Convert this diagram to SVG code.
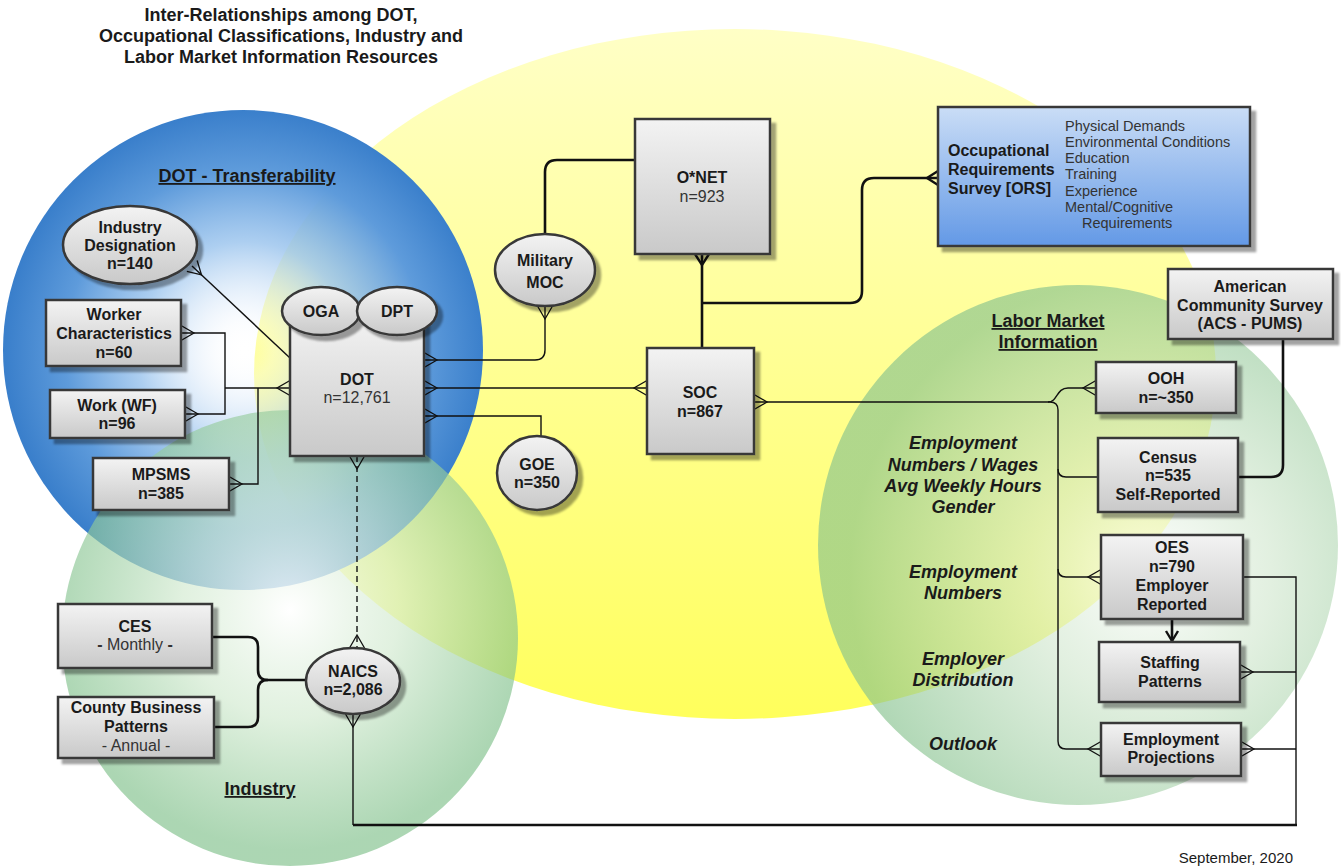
<svg xmlns="http://www.w3.org/2000/svg" width="1341" height="867" viewBox="0 0 1341 867">
<defs>
<linearGradient id="gY" x1="0" y1="0" x2="0" y2="1">
<stop offset="0" stop-color="#FFFFC6"/><stop offset="0.5" stop-color="#FFFF92"/><stop offset="1" stop-color="#FFFF5C"/>
</linearGradient>
<radialGradient id="gB" gradientUnits="userSpaceOnUse" cx="245" cy="350" r="240">
<stop offset="0" stop-color="#FFFFFF" stop-opacity="0"/>
<stop offset="0.12" stop-color="#F2F7FD" stop-opacity="0.35"/>
<stop offset="0.45" stop-color="#9EC6EE" stop-opacity="0.85"/>
<stop offset="0.75" stop-color="#5E9BDB"/>
<stop offset="1" stop-color="#3A7FCB"/>
</radialGradient>
<radialGradient id="gG1" gradientUnits="userSpaceOnUse" cx="290" cy="610" r="240">
<stop offset="0" stop-color="#FFFFFF" stop-opacity="0.85"/>
<stop offset="0.45" stop-color="#D4EBD2" stop-opacity="0.7"/>
<stop offset="1" stop-color="#7FC08A" stop-opacity="0.65"/>
</radialGradient>
<radialGradient id="gG2" gradientUnits="userSpaceOnUse" cx="1150" cy="575" r="300">
<stop offset="0" stop-color="#FFFFFF" stop-opacity="0.75"/>
<stop offset="0.4" stop-color="#CFE6CC" stop-opacity="0.6"/>
<stop offset="1" stop-color="#86C28E" stop-opacity="0.65"/>
</radialGradient>
<linearGradient id="gN" x1="0" y1="0" x2="0" y2="1">
<stop offset="0" stop-color="#F3F3F3"/><stop offset="1" stop-color="#C9C9C9"/>
</linearGradient>
<linearGradient id="gORS" x1="0" y1="0" x2="0" y2="1">
<stop offset="0" stop-color="#CADDF6"/><stop offset="1" stop-color="#6399E6"/>
</linearGradient>
<filter id="sh" x="-20%" y="-20%" width="150%" height="150%">
<feDropShadow dx="5" dy="5" stdDeviation="1.2" flood-color="#000" flood-opacity="0.36"/>
</filter>
<marker id="cf" markerUnits="userSpaceOnUse" viewBox="-16 -16 32 32" markerWidth="32" markerHeight="32" refX="0" refY="0" orient="auto-start-reverse">
<path d="M0,-7.5 L-13,0 L0,7.5" fill="none" stroke="#111" stroke-width="1.3"/>
</marker>
<marker id="cfT" markerUnits="userSpaceOnUse" viewBox="-16 -16 32 32" markerWidth="32" markerHeight="32" refX="0" refY="0" orient="auto-start-reverse">
<path d="M0,-7 L-11,0 L0,7" fill="none" stroke="#111" stroke-width="2.4"/>
</marker>
<marker id="arr" markerUnits="userSpaceOnUse" viewBox="-16 -16 32 32" markerWidth="32" markerHeight="32" refX="0" refY="0" orient="auto">
<path d="M-10,-6 L0,0 L-10,6" fill="none" stroke="#111" stroke-width="2.4"/>
</marker>
</defs>
<style>
.box{fill:url(#gN);stroke:#383838;stroke-width:2.5;filter:url(#sh)}
.ors{fill:url(#gORS);stroke:#383838;stroke-width:2.5;filter:url(#sh)}
text{font-family:"Liberation Sans",Arial,sans-serif;fill:#1a1a1a}
.b{font-weight:bold;font-size:16px;text-anchor:middle}
.n{font-size:16px;text-anchor:middle;fill:#333}
.lst{font-size:14.5px;fill:#333}
.ttl{font-weight:bold;font-size:18px;text-anchor:middle}
.hd{font-weight:bold;font-size:18px;text-anchor:middle;text-decoration:underline}
.it{font-weight:bold;font-style:italic;font-size:18px;text-anchor:middle}
.thin{fill:none;stroke:#111;stroke-width:1.4}
.thick{fill:none;stroke:#111;stroke-width:2.6}
</style>
<rect width="1341" height="867" fill="#FFFFFF"/>
<g id="regions">
<ellipse cx="735" cy="374" rx="481" ry="345" fill="url(#gY)"/>
<circle cx="243" cy="350" r="240" fill="url(#gB)"/>
<circle cx="290" cy="638" r="228" fill="url(#gG1)"/>
<circle cx="1078" cy="545" r="260" fill="url(#gG2)"/>
</g>
<g id="labels">
<text class="ttl" x="281" y="21">Inter-Relationships among DOT,</text>
<text class="ttl" x="281" y="42">Occupational Classifications, Industry and</text>
<text class="ttl" x="281" y="63">Labor Market Information Resources</text>
<text class="hd" x="247" y="182">DOT - Transferability</text>
<text class="hd" x="260" y="795">Industry</text>
<text class="hd" x="1048" y="327">Labor Market</text>
<text class="hd" x="1048" y="348">Information</text>
<text class="it" x="963" y="449">Employment</text>
<text class="it" x="963" y="471">Numbers / Wages</text>
<text class="it" x="963" y="492">Avg Weekly Hours</text>
<text class="it" x="963" y="513">Gender</text>
<text class="it" x="963" y="578">Employment</text>
<text class="it" x="963" y="599">Numbers</text>
<text class="it" x="963" y="665">Employer</text>
<text class="it" x="963" y="686">Distribution</text>
<text class="it" x="963" y="750">Outlook</text>
<text x="1293" y="863" font-size="15" text-anchor="end" fill="#222">September, 2020</text>
</g>
<g id="connectors">
<path class="thin" d="M192,266 L290,358" marker-start="url(#cf)"/>
<path class="thin" d="M181,333 H225 V414 H185" marker-start="url(#cf)" marker-end="url(#cf)"/>
<path class="thin" d="M225,388 H290" marker-end="url(#cf)"/>
<path class="thin" d="M229,484 H258 V388" marker-start="url(#cf)"/>
<path class="thin" d="M424,360 H535 Q545,360 545,350 V306" marker-start="url(#cf)" marker-end="url(#cf)"/>
<path class="thin" d="M424,388 H647" marker-start="url(#cf)" marker-end="url(#cf)"/>
<path class="thin" d="M424,416 H541 V437" marker-start="url(#cf)"/>
<path class="thin" d="M357,456 V648" stroke-dasharray="6 4" marker-start="url(#cf)" marker-end="url(#cf)"/>
<path class="thick" d="M545,234 V172 Q545,160 557,160 H635"/>
<path class="thick" d="M702,254 V348" marker-start="url(#cfT)"/>
<path class="thick" d="M702,303 H850 Q862,303 862,291 V190 Q862,178 874,178 H938" marker-end="url(#cfT)"/>
<path class="thin" d="M754,402 H1050 Q1058,402 1058,410 V741 Q1058,749 1066,749 H1101" marker-start="url(#cf)" marker-end="url(#cf)"/>
<path class="thin" d="M1048,402 C1058,402 1056,388 1068,388 H1096" marker-end="url(#cf)"/>
<path class="thin" d="M1058,469 Q1058,477 1066,477 H1098"/>
<path class="thin" d="M1058,569 Q1058,577 1066,577 H1101" marker-end="url(#cf)"/>
<path class="thick" d="M1283,339 V465 Q1283,477 1271,477 H1238"/>
<path class="thick" d="M1172,619 V641" marker-end="url(#arr)"/>
<path class="thin" d="M1243,577 H1296 V825"/>
<path class="thin" d="M1240,672 H1296" marker-start="url(#cf)"/>
<path class="thin" d="M1241,749 H1296" marker-start="url(#cf)"/>
<path class="thick" d="M1297,825 H353" stroke-width="2.2"/>
<path class="thin" d="M353,825 V714" marker-end="url(#cf)"/>
<path class="thick" d="M212,637 H248 Q258,637 258,647 V670 Q258,680 268,680 H307"/>
<path class="thick" d="M214,727 H248 Q258,727 258,717 V690 Q258,680 268,680"/>
</g>
<g id="n-inddes">
<ellipse class="box" cx="130" cy="245" rx="67" ry="39"/>
<text class="b" x="130" y="233">Industry</text>
<text class="b" x="130" y="251">Designation</text>
<text class="b" x="130" y="269">n=140</text>
</g>
<g id="n-worker">
<rect class="box" x="46" y="300" width="135" height="66"/>
<text class="b" x="114" y="320">Worker</text>
<text class="b" x="114" y="339">Characteristics</text>
<text class="b" x="114" y="358">n=60</text>
</g>
<g id="n-work">
<rect class="box" x="50" y="390" width="135" height="48"/>
<text class="b" x="117" y="411">Work (WF)</text>
<text class="b" x="117" y="429">n=96</text>
</g>
<g id="n-mpsms">
<rect class="box" x="93" y="458" width="136" height="52"/>
<text class="b" x="161" y="480">MPSMS</text>
<text class="b" x="161" y="499">n=385</text>
</g>
<g id="n-dot">
<rect class="box" x="290" y="315" width="134" height="141"/>
<text class="b" x="357" y="385">DOT</text>
<text class="n" x="357" y="403">n=12,761</text>
</g>
<g id="n-oga">
<ellipse class="box" cx="321" cy="311" rx="39" ry="24"/>
<text class="b" x="321" y="317">OGA</text>
</g>
<g id="n-dpt">
<ellipse class="box" cx="397" cy="311" rx="40" ry="24"/>
<text class="b" x="397" y="317">DPT</text>
</g>
<g id="n-moc">
<ellipse class="box" cx="545" cy="270" rx="50" ry="36"/>
<text class="b" x="545" y="266" font-size="18">Military</text>
<text class="b" x="545" y="288" font-size="18">MOC</text>
</g>
<g id="n-onet">
<rect class="box" x="635" y="119" width="135" height="135"/>
<text class="b" x="702" y="183">O*NET</text>
<text class="n" x="702" y="202">n=923</text>
</g>
<g id="n-soc">
<rect class="box" x="647" y="348" width="107" height="106"/>
<text class="b" x="700" y="398">SOC</text>
<text class="b" x="700" y="417">n=867</text>
</g>
<g id="n-goe">
<ellipse class="box" cx="537" cy="473" rx="40" ry="37"/>
<text class="b" x="537" y="470">GOE</text>
<text class="b" x="537" y="488">n=350</text>
</g>
<g id="n-ors">
<rect class="ors" x="938" y="107" width="312" height="139"/>
<text class="b" x="948" y="156" style="text-anchor:start">Occupational</text>
<text class="b" x="948" y="175" style="text-anchor:start">Requirements</text>
<text class="b" x="948" y="194" style="text-anchor:start">Survey [ORS]</text>
<text class="lst" x="1065" y="131">Physical Demands</text>
<text class="lst" x="1065" y="147">Environmental Conditions</text>
<text class="lst" x="1065" y="163">Education</text>
<text class="lst" x="1065" y="179">Training</text>
<text class="lst" x="1065" y="196">Experience</text>
<text class="lst" x="1065" y="212">Mental/Cognitive</text>
<text class="lst" x="1082" y="228">Requirements</text>
</g>
<g id="n-acs">
<rect class="box" x="1168" y="269" width="165" height="70"/>
<text class="b" x="1250" y="292">American</text>
<text class="b" x="1250" y="311">Community Survey</text>
<text class="b" x="1250" y="329">(ACS - PUMS)</text>
</g>
<g id="n-ooh">
<rect class="box" x="1096" y="362" width="140" height="51"/>
<text class="b" x="1166" y="384">OOH</text>
<text class="b" x="1166" y="403">n=~350</text>
</g>
<g id="n-census">
<rect class="box" x="1098" y="438" width="140" height="74"/>
<text class="b" x="1168" y="463">Census</text>
<text class="b" x="1168" y="481">n=535</text>
<text class="b" x="1168" y="500">Self-Reported</text>
</g>
<g id="n-oes">
<rect class="box" x="1101" y="535" width="142" height="84"/>
<text class="b" x="1172" y="553">OES</text>
<text class="b" x="1172" y="572">n=790</text>
<text class="b" x="1172" y="591">Employer</text>
<text class="b" x="1172" y="610">Reported</text>
</g>
<g id="n-staffing">
<rect class="box" x="1099" y="642" width="141" height="60"/>
<text class="b" x="1170" y="668">Staffing</text>
<text class="b" x="1170" y="687">Patterns</text>
</g>
<g id="n-ep">
<rect class="box" x="1101" y="723" width="140" height="53"/>
<text class="b" x="1171" y="745">Employment</text>
<text class="b" x="1171" y="763">Projections</text>
</g>
<g id="n-naics">
<ellipse class="box" cx="353" cy="681" rx="47" ry="33"/>
<text class="b" x="353" y="677">NAICS</text>
<text class="b" x="353" y="695">n=2,086</text>
</g>
<g id="n-ces">
<rect class="box" x="58" y="604" width="154" height="64"/>
<text class="b" x="135" y="632">CES</text>
<text class="n" x="135" y="650"><tspan font-weight="bold">-</tspan> Monthly <tspan font-weight="bold">-</tspan></text>
</g>
<g id="n-cbp">
<rect class="box" x="58" y="697" width="156" height="61"/>
<text class="b" x="136" y="713">County Business</text>
<text class="b" x="136" y="732">Patterns</text>
<text class="n" x="136" y="751">- Annual -</text>
</g>
</svg>
